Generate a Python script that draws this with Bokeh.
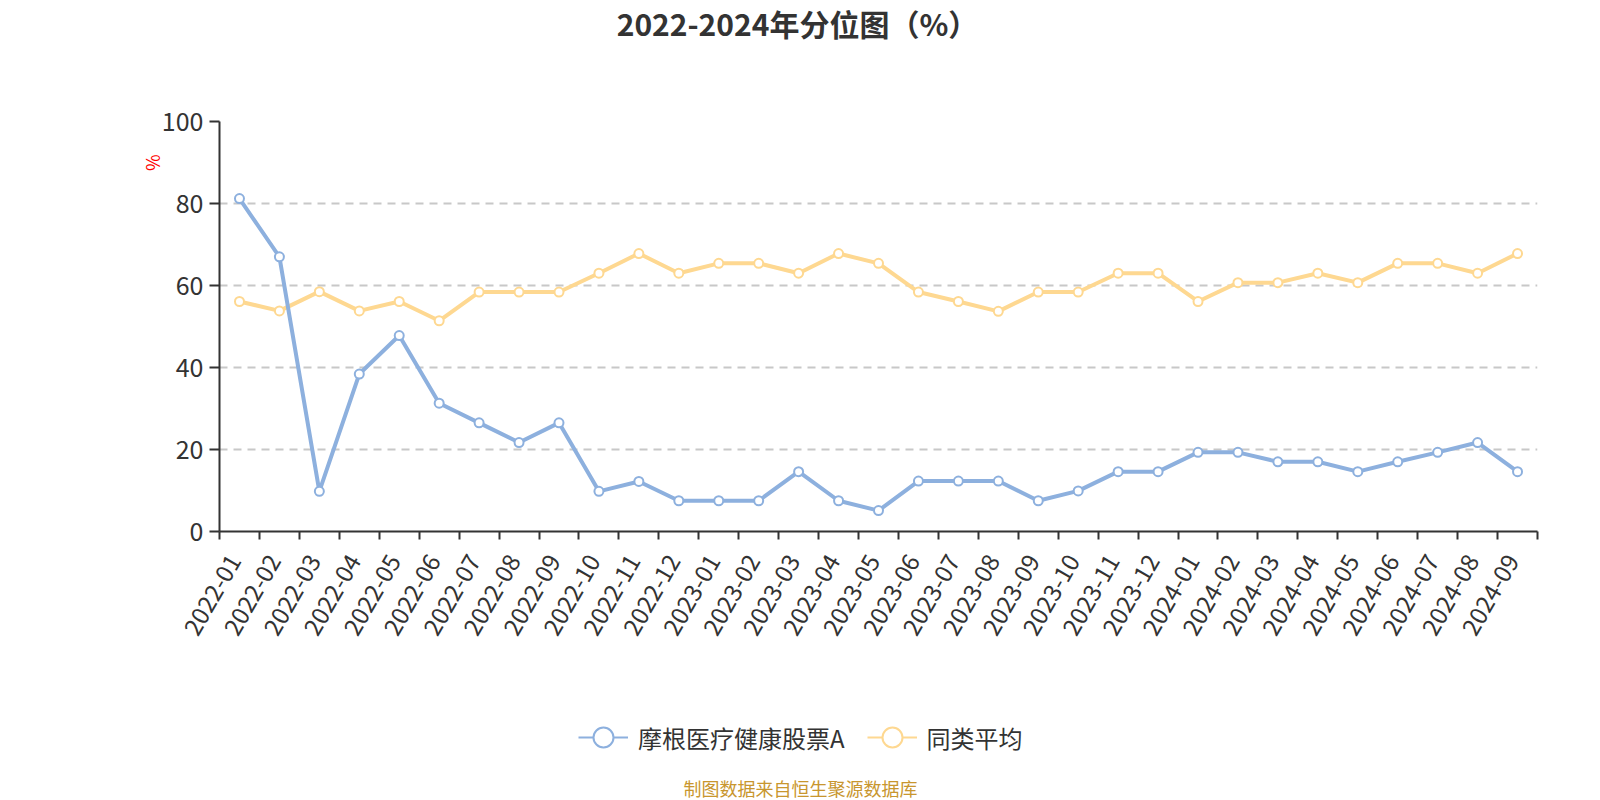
import math
from bokeh.plotting import figure
from bokeh.layouts import column
from bokeh.models import (ColumnDataSource, Range1d, FixedTicker, Label, Legend,
                          LegendItem, Title)
from bokeh.embed import file_html
from bokeh.resources import INLINE

months = ["2022-01", "2022-02", "2022-03", "2022-04", "2022-05", "2022-06", "2022-07",
          "2022-08", "2022-09", "2022-10", "2022-11", "2022-12", "2023-01", "2023-02",
          "2023-03", "2023-04", "2023-05", "2023-06", "2023-07", "2023-08", "2023-09",
          "2023-10", "2023-11", "2023-12", "2024-01", "2024-02", "2024-03", "2024-04",
          "2024-05", "2024-06", "2024-07", "2024-08", "2024-09"]
fund = [81.2, 67.0, 9.8, 38.4, 47.8, 31.3, 26.5, 21.7, 26.5, 9.8, 12.2, 7.5, 7.5, 7.5,
        14.6, 7.5, 5.1, 12.3, 12.3, 12.3, 7.5, 9.9, 14.6, 14.6, 19.3, 19.3, 17.0, 17.0,
        14.6, 17.0, 19.3, 21.7, 14.6]
peer = [56.1, 53.8, 58.5, 53.8, 56.1, 51.4, 58.4, 58.4, 58.4, 63.0, 67.8, 63.0, 65.4,
        65.4, 63.0, 67.8, 65.4, 58.4, 56.1, 53.7, 58.4, 58.4, 63.0, 63.0, 56.1, 60.7,
        60.7, 63.0, 60.7, 65.4, 65.4, 63.0, 67.8]
series_names = ["摩根医疗健康股票A", "同类平均"]
y_ticks = [0, 20, 40, 60, 80, 100]
title_text = "2022-2024年分位图（%）"
y_unit = "%"
source_text = "制图数据来自恒生聚源数据库"

FONT = "Noto Sans CJK SC"
BLUE = "#8DB0DE"
YELLOW = "#FED891"
DARK = "#333333"
W = 1600
TOP_H = 100
BOT_H = 100
MAIN_H = 800 - TOP_H - BOT_H
FRAME_L = 219          # page x of the plot frame's left edge
FRAME_R = 1537         # page x of the plot frame's right edge
LABEL_SHIFT = 0.13     # rotated tick labels: nudge so their upper end meets the centre


def blank_figure(h):
    # frames of a column are aligned with the main chart's frame, so the
    # x range is expressed in page pixels over that span
    f = figure(width=W, height=h, output_backend="svg", toolbar_location=None,
               x_range=Range1d(FRAME_L, FRAME_R), y_range=Range1d(0, h),
               x_axis_location=None, y_axis_location=None,
               min_border=0, min_border_left=FRAME_L, min_border_right=W - FRAME_R,
               min_border_top=0, min_border_bottom=0)
    f.grid.visible = False
    f.outline_line_color = None
    f.background_fill_color = "white"
    f.border_fill_color = "white"
    return f


# ---- title strip
top = blank_figure(TOP_H)
top.add_layout(Label(x=797, y=TOP_H - 22, text=title_text, text_align="center",
                     text_baseline="middle", text_font=FONT, text_font_size="30px",
                     text_font_style="bold", text_color=DARK))

# ---- main chart
pos = [i + 0.5 for i in range(len(months))]
src = ColumnDataSource(dict(x=pos, fund=fund, peer=peer))

p = figure(width=W, height=MAIN_H, output_backend="svg", toolbar_location=None,
           x_range=Range1d(0, len(months)), y_range=Range1d(0, 100),
           min_border_left=FRAME_L, min_border_right=W - FRAME_R,
           min_border_top=121 - TOP_H, min_border_bottom=TOP_H + MAIN_H - 531)
p.outline_line_color = None
p.background_fill_color = "white"
p.border_fill_color = "white"

yt = FixedTicker(ticks=y_ticks)
p.yaxis.ticker = yt
p.ygrid.ticker = yt
p.yaxis.axis_line_color = DARK
p.yaxis.axis_line_width = 2
p.yaxis.major_tick_line_color = DARK
p.yaxis.major_tick_line_width = 2
p.yaxis.major_tick_out = 10
p.yaxis.major_tick_in = 0
p.yaxis.minor_tick_line_color = None
p.yaxis.major_label_text_font = FONT
p.yaxis.major_label_text_font_size = "25px"
p.yaxis.major_label_text_color = DARK
p.yaxis.major_label_standoff = 6

p.ygrid.grid_line_color = "#c8c8c8"
p.ygrid.grid_line_width = 2
p.ygrid.grid_line_dash = "8 6"
p.xgrid.visible = False

# x axis: labels at category centres, ticks at category boundaries
label_pos = [x - LABEL_SHIFT for x in pos]
xt = FixedTicker(ticks=label_pos, minor_ticks=list(range(len(months) + 1)))
p.xaxis.ticker = xt
p.xaxis.major_label_overrides = {x: m for x, m in zip(label_pos, months)}
p.xaxis.axis_line_color = DARK
p.xaxis.axis_line_width = 2
p.xaxis.major_tick_line_color = None
p.xaxis.major_tick_out = 0
p.xaxis.major_tick_in = 0
p.xaxis.minor_tick_line_color = DARK
p.xaxis.minor_tick_line_width = 2
p.xaxis.minor_tick_out = 8
p.xaxis.minor_tick_in = 0
p.xaxis.major_label_orientation = math.pi / 3
p.xaxis.major_label_text_font = FONT
p.xaxis.major_label_text_font_size = "24px"
p.xaxis.major_label_text_color = DARK
p.xaxis.major_label_standoff = 17

# unit label, top of the y axis
p.add_layout(Title(text=y_unit, align="right", offset=33, standoff=-12,
                   text_font=FONT, text_font_size="18px", text_font_style="normal",
                   text_color="red"), "left")

p.line("x", "peer", source=src, line_color=YELLOW, line_width=4)
p.scatter("x", "peer", source=src, size=9, fill_color="white", line_color=YELLOW, line_width=2)
p.line("x", "fund", source=src, line_color=BLUE, line_width=4)
p.scatter("x", "fund", source=src, size=9, fill_color="white", line_color=BLUE, line_width=2)

# ---- legend + source strip
bot = blank_figure(BOT_H)
items = []
for name, col in zip(series_names, [BLUE, YELLOW]):
    # legend-only glyphs, parked outside the visible range of this strip
    r1 = bot.line([-9999, -9998], [-9999, -9999], line_color=col, line_width=2)
    r2 = bot.scatter([-9999], [-9999], size=20, fill_color="white", line_color=col,
                     line_width=2)
    items.append(LegendItem(label=name, renderers=[r1, r2]))
legend = Legend(items=items, orientation="horizontal", location=(359, 38),
                padding=0, margin=0, spacing=22, label_standoff=10,
                glyph_width=50, glyph_height=50, label_height=26,
                border_line_alpha=0, background_fill_alpha=0,
                label_text_font=FONT, label_text_font_size="24px",
                label_text_color=DARK)
bot.add_layout(legend)
bot.add_layout(Label(x=800, y=BOT_H - 87, text=source_text, text_align="center",
                     text_baseline="middle", text_font=FONT, text_font_size="18px",
                     text_color="#C8962E"))

layout = column(top, p, bot, spacing=0)
open("out.html", "w").write(file_html(layout, INLINE))
